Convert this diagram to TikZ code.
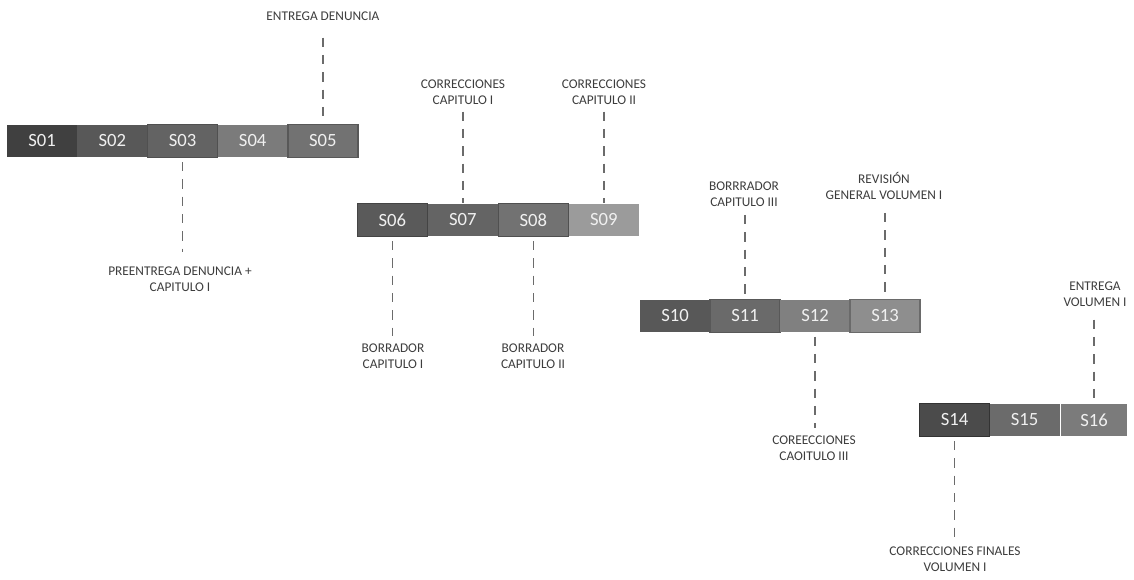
\documentclass[tikz,border=0pt]{standalone}
\usepackage{fontspec}
\setmainfont{Carlito}
\definecolor{gA}{RGB}{64,64,64}
\definecolor{gB}{RGB}{88,88,88}
\definecolor{gC}{RGB}{99,99,99}
\definecolor{gD}{RGB}{123,123,123}
\definecolor{gE}{RGB}{114,114,114}
\definecolor{gF}{RGB}{90,90,90}
\definecolor{gG}{RGB}{100,100,100}
\definecolor{gH}{RGB}{155,155,155}
\definecolor{gI}{RGB}{106,106,106}
\definecolor{gJ}{RGB}{128,128,128}
\definecolor{gK}{RGB}{142,142,142}
\definecolor{gL}{RGB}{75,75,75}
\definecolor{gM}{RGB}{107,107,107}
\definecolor{rimA}{RGB}{80,80,80}
\definecolor{rimB}{RGB}{68,68,68}
\definecolor{rimC}{RGB}{51,51,51}
\begin{document}
\begin{tikzpicture}[x=0.75pt,y=0.75pt,yscale=-1,xscale=1]
\tikzset{
  week/.style={minimum width=52.5pt, minimum height=24.5pt, inner sep=0pt, text=white!94!black, font=\fontsize{14}{14}\selectfont},
  framed/.style={draw=#1, line width=1.1pt},
  hito/.style={align=center, text=black!76, font=\fontsize{10}{12}\selectfont, inner sep=0.75pt},
  guide/.style={color=black!58, line width=1.1pt, dash pattern=on 7pt off 6pt}
}
%set diagram size
\path [fill=white] (0,0) rectangle (1134,580);

%Weeks row 1
\node [week, fill=gA] (s01) at (42.1,141) {S01};
\node [week, fill=gB] (s02) at (112.3,141) {S02};
\node [week, fill=gC, framed=rimA] (s03) at (182.5,141) {S03};
\node [week, fill=gD] (s04) at (252.7,141) {S04};
\node [week, fill=gE, framed=gB] (s05) at (322.9,141) {S05};

%Weeks row 2
\node [week, fill=gF, framed=rimB] (s06) at (392.3,220) {S06};
\node [week, fill=gG] (s07) at (462.8,220) {S07};
\node [week, fill=gE, framed=rimA] (s08) at (533.3,220) {S08};
\node [week, fill=gH] (s09) at (603.8,220) {S09};

%Weeks row 3
\node [week, fill=gB] (s10) at (675,316) {S10};
\node [week, fill=gI, framed=gB] (s11) at (745,316) {S11};
\node [week, fill=gJ] (s12) at (815,316) {S12};
\node [week, fill=gK, framed=gI] (s13) at (885,316) {S13};

%Weeks row 4
\node [week, fill=gL, framed=rimC] (s14) at (954.5,420) {S14};
\node [week, fill=gM] (s15) at (1024.5,420) {S15};
\node [week, fill=gD, minimum width=49.5pt] (s16) at (1094,420) {S16};

% Text Node
\node [hito] (ent) at (322.9,16) {ENTREGA DENUNCIA};
% Text Node
\node [hito] (pre) at (180,279) {PREENTREGA DENUNCIA +\\CAPITULO I};
% Text Node
\node [hito] (cc1) at (463,92) {CORRECCIONES\\CAPITULO I};
% Text Node
\node [hito] (cc2) at (604,92) {CORRECCIONES\\CAPITULO II};
% Text Node
\node [hito] (bc1) at (393,356) {BORRADOR\\CAPITULO I};
% Text Node
\node [hito] (bc2) at (533,356) {BORRADOR\\CAPITULO II};
% Text Node
\node [hito] (bc3) at (744,194) {BORRRADOR\\CAPITULO III};
% Text Node
\node [hito] (rev) at (884,186) {REVISIÓN\\GENERAL VOLUMEN I};
% Text Node
\node [hito] (coe) at (814,448) {COREECCIONES\\CAOITULO III};
% Text Node
\node [hito] (env) at (1095,294) {ENTREGA\\VOLUMEN I};
% Text Node
\node [hito] (cfv) at (955,559) {CORRECCIONES FINALES\\VOLUMEN I};

%Dashed guides, from the label down to the week
\draw [guide, shorten <=12pt] (s05.north |- ent.south) -- (s05.north);
\draw [guide, shorten <=3pt, shorten >=10pt] (s03.south) -- (s03.south |- pre.north);
\draw [guide, shorten <=4.5pt] (s07.north |- cc1.south) -- (s07.north);
\draw [guide, shorten <=4.5pt] (s09.north |- cc2.south) -- (s09.north);
\draw [guide, shorten <=3pt, shorten >=4.5pt] (s06.south) -- (s06.south |- bc1.north);
\draw [guide, shorten <=3pt, shorten >=4.5pt] (s08.south) -- (s08.south |- bc2.north);
\draw [guide, shorten <=5.5pt] (s11.north |- bc3.south) -- (s11.north);
\draw [guide, shorten <=9pt] (s13.north |- rev.south) -- (s13.north);
\draw [guide, shorten <=3pt, shorten >=5pt] (s12.south) -- (s12.south |- coe.north);
\draw [guide, shorten <=9pt] (s16.north |- env.south) -- (s16.north);
\draw [guide, shorten <=3pt, shorten >=4.5pt] (s14.south) -- (s14.south |- cfv.north);

\end{tikzpicture}
\end{document}
